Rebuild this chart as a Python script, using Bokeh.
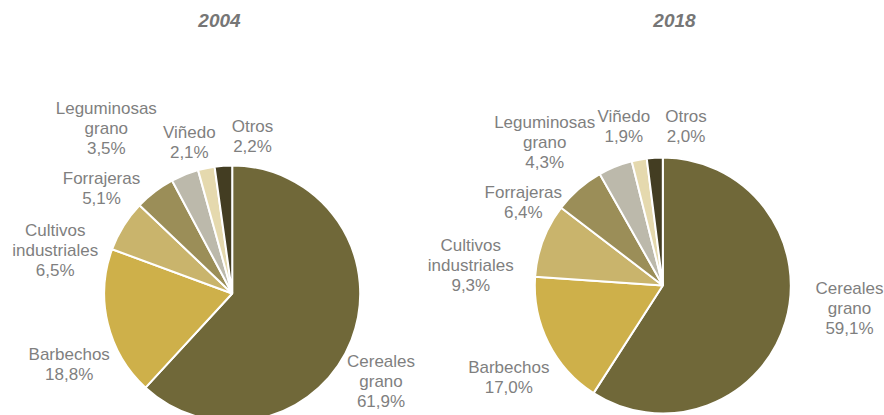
from bokeh.plotting import figure
from bokeh.models import Range1d, ColumnDataSource
from bokeh.core.properties import value
from bokeh.embed import file_html
from bokeh.resources import INLINE
import math

# ---- data ----
categories = ["Cereales grano", "Barbechos", "Cultivos industriales", "Forrajeras",
              "Leguminosas grano", "Viñedo", "Otros"]
label_lines = [["Cereales", "grano"], ["Barbechos"], ["Cultivos", "industriales"],
               ["Forrajeras"], ["Leguminosas", "grano"], ["Viñedo"], ["Otros"]]
values_2004 = [61.9, 18.8, 6.5, 5.1, 3.5, 2.1, 2.2]
values_2018 = [59.1, 17.0, 9.3, 6.4, 4.3, 1.9, 2.0]
years = ["2004", "2018"]
colors = ["#706839", "#CEB04A", "#C9B46C", "#9B8E58", "#BCB9AB", "#E5D9AE", "#433D22"]

# ---- layout (screen px, from top-left of picture) ----
W, H = 884, 415
pie_centers = [(231.7, 293.0), (662.3, 285.0)]
pie_radius = 128
title_pos = [(219, 20), (674, 20)]
# label block centres (x, y of first line) per pie
label_pos = [
    [(380.5, 361), (68.7, 354), (54.7, 230), (101, 178), (105.8, 108), (188.8, 132), (252, 126)],
    [(849, 288), (508.3, 367), (470.3, 245), (522.8, 192), (544.2, 122), (623.3, 116), (685.5, 116)],
]
line_h = 20
text_color = "#7F7F7F"
font = "Liberation Sans"


def X(x):
    return x


def Y(y):
    return H - y


p = figure(width=W, height=H, output_backend="svg", toolbar_location=None,
           x_range=Range1d(0, W), y_range=Range1d(0, H), min_border=0)
p.axis.visible = False
p.grid.visible = False
p.outline_line_color = None

for k, vals in enumerate([values_2004, values_2018]):
    cx, cy = pie_centers[k]
    total = sum(vals)
    starts, ends = [], []
    cum = 0.0
    for v in vals:
        starts.append(math.pi / 2 - 2 * math.pi * cum / total)
        cum += v
        ends.append(math.pi / 2 - 2 * math.pi * cum / total)
    src = ColumnDataSource(dict(x=[X(cx)] * len(vals), y=[Y(cy)] * len(vals),
                                s=starts, e=ends, c=colors))
    p.wedge(x="x", y="y", radius=pie_radius, radius_units="screen",
            start_angle="s", end_angle="e", direction="clock",
            fill_color="c", line_color="white", line_width=2, source=src)

    # labels
    tx, ty, tt = [], [], []
    for i, v in enumerate(vals):
        lx, ly = label_pos[k][i]
        lines = label_lines[i] + [f"{v:.1f}".replace(".", ",") + "%"]
        for j, ln in enumerate(lines):
            tx.append(X(lx))
            ty.append(Y(ly + j * line_h))
            tt.append(ln)
    p.text(x=tx, y=ty, text=tt, text_align="center", text_baseline="middle",
           text_color=text_color, text_font=value(font), text_font_size="17px")

    # title
    p.text(x=[X(title_pos[k][0])], y=[Y(title_pos[k][1])], text=[years[k]],
           text_align="center", text_baseline="middle", text_color="#767676",
           text_font=value(font), text_font_size="19px", text_font_style="bold italic")

open("out.html", "w").write(file_html(p, INLINE))
